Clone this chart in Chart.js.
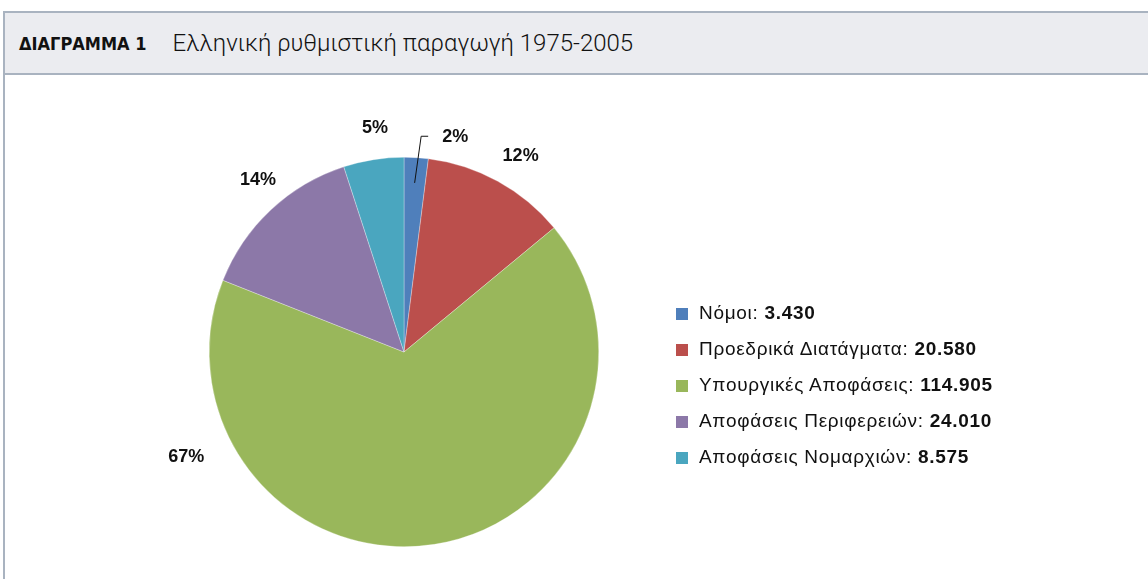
<!DOCTYPE html>
<html>
<head>
<meta charset="utf-8">
<script src="https://cdn.jsdelivr.net/npm/chart.js@4"></script>
<style>
  html, body { margin: 0; padding: 0; background: #fff; }
  body { width: 1148px; height: 579px; overflow: hidden; position: relative; font-family: 'Liberation Sans', Arial, sans-serif; }
  .frame { position: absolute; left: 3px; top: 11px; width: 1170px; height: 600px; border: 2px solid #a9b3c0; box-sizing: border-box; }
  .head { height: 60px; background: #ebecf0; border-bottom: 2px solid #a9b3c0; display: flex; align-items: center; }
  .head .num { margin-left: 14px; font-family: 'Liberation Sans Narrow', 'DejaVu Sans Condensed', sans-serif; font-weight: bold; font-size: 18px; color: #111; }
  .head .title { margin-left: 26px; font-family: Roboto, sans-serif; font-weight: 300; font-size: 24px; color: #111; }
  #wrap { position: absolute; left: 4px; top: 73px; width: 800px; height: 506px; }
  #legend { position: absolute; left: 676px; top: 302px; list-style: none; margin: 0; padding: 0; font-size: 19px; letter-spacing: 0.7px; color: #111; }
  #legend li { height: 36px; display: flex; align-items: flex-start; }
  #legend .box { width: 12px; height: 12px; margin-right: 11px; margin-top: 6px; }
</style>
</head>
<body>
<div class="frame">
  <div class="head"><span class="num">ΔΙΑΓΡΑΜΜΑ 1</span><span class="title">Ελληνική ρυθμιστική παραγωγή 1975-2005</span></div>
</div>
<div id="wrap"><canvas id="pie"></canvas></div>
<ul id="legend"></ul>
<script>
const categories = ['Νόμοι', 'Προεδρικά Διατάγματα', 'Υπουργικές Αποφάσεις', 'Αποφάσεις Περιφερειών', 'Αποφάσεις Νομαρχιών']
const values = [3430, 20580, 114905, 24010, 8575]
const valueLabels = ['3.430', '20.580', '114.905', '24.010', '8.575']
const colors = ['#4f7fbb', '#bb4f4c', '#99b75b', '#8c78a8', '#4aa6bf']

// legend as html so the value can be bold
const legend = document.getElementById('legend')
categories.forEach((c, i) => {
    const li = document.createElement('li')
    li.innerHTML = `<span class="box" style="background:${colors[i]}"></span><span>${c}: <b>${valueLabels[i]}</b></span>`
    legend.appendChild(li)
})

const pctLabels = {
    id: 'pctLabels',
    afterDatasetsDraw(chart, args, opts) {
        const ctx = chart.ctx
        const meta = chart.getDatasetMeta(0)
        const total = values.reduce((a, b) => a + b, 0)
        ctx.save()
        ctx.font = 'bold 18px "Liberation Sans", Arial, sans-serif'
        ctx.fillStyle = '#111'
        ctx.textBaseline = 'middle'
        ctx.textAlign = 'center'
        meta.data.forEach((arc, i) => {
            const { x, y, startAngle, endAngle, outerRadius } = arc.getProps(['x', 'y', 'startAngle', 'endAngle', 'outerRadius'], true)
            const pct = Math.round(values[i] / total * 100) + '%'
            let a = (startAngle + endAngle) / 2
            if (opts.angle[i] != null) a = opts.angle[i] * Math.PI / 180
            const d = outerRadius + opts.offset[i]
            const lx = x + Math.cos(a) * d
            const ly = y + Math.sin(a) * d
            if (opts.leader[i]) {
                // small slice: line from inside the slice up and out
                const mid = (startAngle + endAngle) / 2
                const sx = x + Math.cos(mid) * outerRadius * 0.87
                const sy = y + Math.sin(mid) * outerRadius * 0.87
                ctx.strokeStyle = '#111'
                ctx.lineWidth = 1
                ctx.beginPath()
                ctx.moveTo(sx, sy)
                ctx.lineTo(lx - 34, ly - 1)
                ctx.lineTo(lx - 27, ly - 1)
                ctx.stroke()
            }
            ctx.fillText(pct, lx, ly)
        })
        ctx.restore()
    }
}

new Chart(document.getElementById('pie'), {
    type: 'pie',
    data: {
        labels: categories,
        datasets: [{
            data: values,
            backgroundColor: colors,
            borderColor: 'rgba(255,255,255,0.6)',
            borderWidth: 0.5
        }]
    },
    options: {
        responsive: true,
        maintainAspectRatio: false,
        animation: false,
        layout: { padding: { top: 84, bottom: 32, left: 0, right: 0 } },
        plugins: {
            legend: { display: false },
            tooltip: { enabled: false },
            pctLabels: {
                angle: [-76.6, -59.2, 154.3, -130.3, -97.4],
                offset: [26, 33, 47, 31, 31],
                leader: [true, false, false, false, false]
            }
        }
    },
    plugins: [pctLabels]
})
</script>
</body>
</html>
